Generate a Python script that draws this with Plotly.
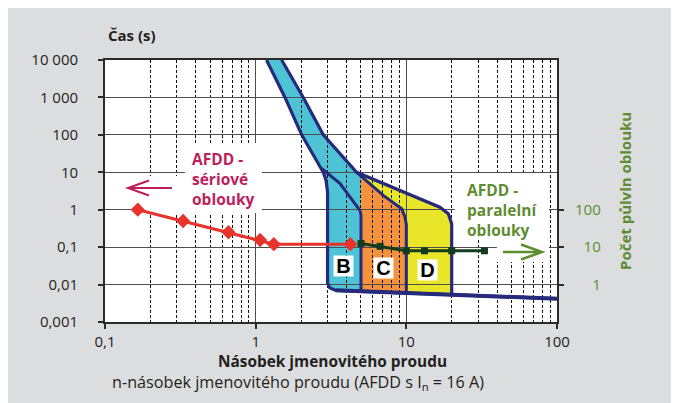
import numpy as np
import plotly.graph_objects as go

# ---------------- data ----------------
# tripping characteristic B/C/D (x = multiple of In, y = time in s)
band_left_x = [1.18, 1.565, 2.02, 2.81, 2.93, 3.0, 3.0, 3.1, 3.4]
band_left_y = [10000, 1000, 100, 10, 6.1, 3.0, 0.011, 0.0082, 0.0070]
band_right_x = [1.488, 2.07, 2.81, 4.68]
band_right_y = [10000, 1000, 100, 10]
d_top_x = [4.68, 16.7, 19.0, 20.0, 20.0]
d_top_y = [10, 1.17, 0.78, 0.42, 0.0055]
b_line_x = [2.74, 3.62, 4.92, 5.0, 5.0]
b_line_y = [12.6, 5.05, 0.96, 0.75, 0.0066]
c_line_x = [4.68, 7.03, 9.31, 9.79, 10.0, 10.0]
c_line_y = [10, 2.41, 1.06, 0.64, 0.4, 0.0060]
bottom_x = [3.4, 5.0, 10.0, 20.0, 100.0]
bottom_y = [0.0070, 0.0066, 0.0060, 0.0055, 0.0042]
c_corner_x = [5.0, 5.0]
c_corner_y = [0.0066, 8.0]

# AFDD serial arcs (time, s)
serial_x = [0.165, 0.33, 0.66, 1.07, 1.32, 4.25]
serial_y = [1.0, 0.5, 0.25, 0.155, 0.12, 0.12]
# AFDD parallel arcs (number of half-waves, right axis)
parallel_x = [5.0, 6.7, 10.0, 13.2, 20.0, 33.0]
parallel_y = [12.5, 10.5, 8, 8, 8, 8]

# tick values / labels
x_ticks = [0.1, 1, 10, 100]
x_ticktext = ["0,1", "1", "10", "100"]
x_minor = [m * 10.0 ** e for e in (-1, 0, 1) for m in range(2, 10)]
y_ticks = [0.001, 0.01, 0.1, 1, 10, 100, 1000, 10000]
y_ticktext = ["0,001", "0,01", "0,1", "1", "10", "100", "1 000", "10 000"]
y3_ticks = [1, 10, 100]
y3_ticktext = ["\u2007\u20071", "\u200710", "100"]

label_text = ["B", "C", "D"]
label_x = [3.85, 7.06, 13.9]
label_y = [0.0307, 0.0285, 0.0244]

# ---------------- style ----------------
CYAN = "#4ec3d6"
ORANGE = "#f5923e"
YELLOW = "#e9e62a"
NAVY = "#262a7a"
RED = "#e8332c"
DKGREEN = "#123c1e"
GREEN = "#5e8c31"
MAGENTA = "#be1e5a"
GREY_BG = "#dcdddf"
FONT = "Open Sans"

OX, OY = 8, 8           # page (body) offset of the figure
W, H = 679, 403
PW, PH = 452, 262
L = 105 - OX
T = 60 - OY
R = W - L - PW
B = H - T - PH


def P(px, py):
    """picture pixel -> paper coordinates"""
    return (px - OX - L) / PW, (OY + T + PH - py) / PH


fig = go.Figure()

# filled regions (bottom subplot, so that the grid of the main subplot lies over them)
cyan_x = band_left_x + c_corner_x + band_right_x[::-1]
cyan_y = band_left_y + c_corner_y + band_right_y[::-1]
orange_x = c_line_x + c_corner_x
orange_y = c_line_y + c_corner_y
yellow_x = d_top_x + c_line_x[::-1]
yellow_y = d_top_y + c_line_y[::-1]
for fx, fy, col in [(cyan_x, cyan_y, CYAN), (orange_x, orange_y, ORANGE), (yellow_x, yellow_y, YELLOW)]:
    fig.add_trace(go.Scatter(x=fx, y=fy, fill="toself", fillcolor=col, mode="lines",
                             line=dict(width=0, color=col), xaxis="x", yaxis="y",
                             hoverinfo="skip", showlegend=False))

# outlines
for lx, ly, w in [(band_left_x + bottom_x, band_left_y + bottom_y, 3.2),
                  (band_right_x + d_top_x[1:], band_right_y + d_top_y[1:], 3.2),
                  (b_line_x, b_line_y, 3.0),
                  (c_line_x, c_line_y, 3.0),
                  (bottom_x, bottom_y, 4.0)]:
    fig.add_trace(go.Scatter(x=lx, y=ly, mode="lines", line=dict(color=NAVY, width=w),
                             xaxis="x2", yaxis="y2", hoverinfo="skip", showlegend=False))

# AFDD serial
fig.add_trace(go.Scatter(x=serial_x, y=serial_y, mode="lines+markers",
                         line=dict(color=RED, width=3),
                         marker=dict(symbol="diamond", size=11, color=RED),
                         xaxis="x2", yaxis="y2", showlegend=False))
# AFDD parallel
fig.add_trace(go.Scatter(x=parallel_x, y=parallel_y, mode="lines+markers",
                         line=dict(color=DKGREEN, width=3),
                         marker=dict(symbol="square", size=7, color=DKGREEN),
                         xaxis="x2", yaxis="y3", showlegend=False))

grid_col = "#4d4d4d"
axis_col = "#2b2b2b"
tickfont = dict(family=FONT, size=15, color="#231f20")

fig.update_layout(
    width=W, height=H, autosize=False,
    margin=dict(l=L, r=R, t=T, b=B, pad=0),
    paper_bgcolor=GREY_BG,
    plot_bgcolor="rgba(0,0,0,0)",
    showlegend=False,
    xaxis=dict(type="log", range=[-1, 2], domain=[0, 1], anchor="y", visible=False),
    yaxis=dict(type="log", range=[-3, 4], domain=[0, 1], anchor="x", visible=False),
    xaxis2=dict(type="log", range=[-1, 2], domain=[0, 1], anchor="y2",
                tickmode="array", tickvals=x_ticks, ticktext=x_ticktext,
                ticks="outside", ticklen=5, tickwidth=1.5, tickcolor=axis_col,
                tickfont=tickfont, ticklabelstandoff=0,
                showgrid=True, gridcolor=grid_col, gridwidth=1.3,
                minor=dict(tickmode="array", tickvals=x_minor, showgrid=True,
                           gridcolor="#111111", gridwidth=1, griddash="3px,2px", ticks=""),
                showline=True, mirror=True, linecolor=axis_col, linewidth=1.8,
                zeroline=False),
    yaxis2=dict(type="log", range=[-3, 4], domain=[0, 1], anchor="x2",
                tickmode="array", tickvals=y_ticks, ticktext=y_ticktext,
                ticks="outside", ticklen=5, tickwidth=1.5, tickcolor=axis_col,
                tickfont=tickfont, ticklabelstandoff=17,
                showgrid=True, gridcolor=grid_col, gridwidth=1.3,
                showline=True, mirror=True, linecolor=axis_col, linewidth=1.8,
                zeroline=False),
    yaxis3=dict(type="log", range=[-1, 6], overlaying="y2", side="right", anchor="x2",
                tickmode="array", tickvals=y3_ticks, ticktext=y3_ticktext,
                ticks="outside", ticklen=6, tickwidth=1.5, tickcolor=axis_col,
                tickfont=dict(family=FONT, size=15, color=GREEN), ticklabelstandoff=8,
                showgrid=False, showline=False, zeroline=False),
)

shapes = []
# white plot area (below everything)
shapes.append(dict(type="rect", xref="paper", yref="paper", x0=0, x1=1, y0=0, y1=1,
                   fillcolor="white", line=dict(width=0), layer="below"))
# white text boxes (cover grid, under traces)
for bx0, bx1, by0, by1 in [(0.340, 1.10, 0.817, 60.5), (0.171, 0.340, 0.817, 7.9),
                           (21.0, 88.3, 0.175, 9.0), (39.9, 88.3, 0.040, 0.175)]:
    shapes.append(dict(type="rect", xref="x2", yref="y2", x0=bx0, x1=bx1, y0=by0, y1=by1,
                       fillcolor="white", line=dict(width=0), layer="between"))


def arrow_path(tail, tip, arm1, arm2):
    pts = [P(*tail), P(*tip), P(*arm1), P(*arm2)]
    return ("M{0[0]},{0[1]} L{1[0]},{1[1]} M{2[0]},{2[1]} L{1[0]},{1[1]} L{3[0]},{3[1]}"
            .format(*pts))


shapes.append(dict(type="path", xref="paper", yref="paper",
                   path=arrow_path((172, 188), (128, 188), (149, 180.5), (149, 195.5)),
                   line=dict(color=MAGENTA, width=2), layer="above"))
shapes.append(dict(type="path", xref="paper", yref="paper",
                   path=arrow_path((503, 252), (542, 252), (521, 244.5), (521, 259.5)),
                   line=dict(color=GREEN, width=2.5), layer="above"))
fig.update_layout(shapes=shapes)

ann = []
for t, lx, ly in zip(label_text, label_x, label_y):
    ann.append(dict(xref="x2", yref="y2", x=float(np.log10(lx)), y=float(np.log10(ly)),
                    text="<b>%s</b>" % t, showarrow=False,
                    font=dict(family="Liberation Sans", size=20, color="black"),
                    bgcolor="white", width=19, height=20, borderpad=0))

px_, py_ = P(106, 35)
ann.append(dict(xref="paper", yref="paper", x=px_, y=py_, xanchor="left", yanchor="middle",
                text="<b>Čas (s)</b>", showarrow=False,
                font=dict(family=FONT, size=15, color="#231f20")))
px_, py_ = P(332, 361)
ann.append(dict(xref="paper", yref="paper", x=px_, y=py_, xanchor="center", yanchor="middle",
                text="<b>Násobek jmenovitého proudu</b>", showarrow=False,
                font=dict(family=FONT, size=15.4, color="#231f20")))
px_, py_ = P(298, 382.5)
ann.append(dict(xref="paper", yref="paper", x=px_, y=py_, xanchor="center", yanchor="middle",
                text="n-násobek jmenovitého proudu (AFDD s I<sub>n</sub> = 16 A)", showarrow=False,
                font=dict(family=FONT, size=16.2, color="#231f20")))
px_, py_ = P(625, 191)
ann.append(dict(xref="paper", yref="paper", x=px_, y=py_, xanchor="center", yanchor="middle",
                text="<b>Počet půlvln oblouku</b>", showarrow=False, textangle=-90,
                font=dict(family=FONT, size=15, color=GREEN)))
px_, py_ = P(190, 179)
ann.append(dict(xref="paper", yref="paper", x=px_, y=py_, xanchor="left", yanchor="middle",
                align="left", text="<b>AFDD -<br>sériové<br>oblouky</b>", showarrow=False,
                font=dict(family=FONT, size=15.5, color=MAGENTA)))
px_, py_ = P(465, 209.5)
ann.append(dict(xref="paper", yref="paper", x=px_, y=py_, xanchor="left", yanchor="middle",
                align="left", text="<b>AFDD -<br>paralelní<br>oblouky</b>", showarrow=False,
                font=dict(family=FONT, size=15.5, color=GREEN)))
fig.update_layout(annotations=ann)

fig.write_html("out.html")
